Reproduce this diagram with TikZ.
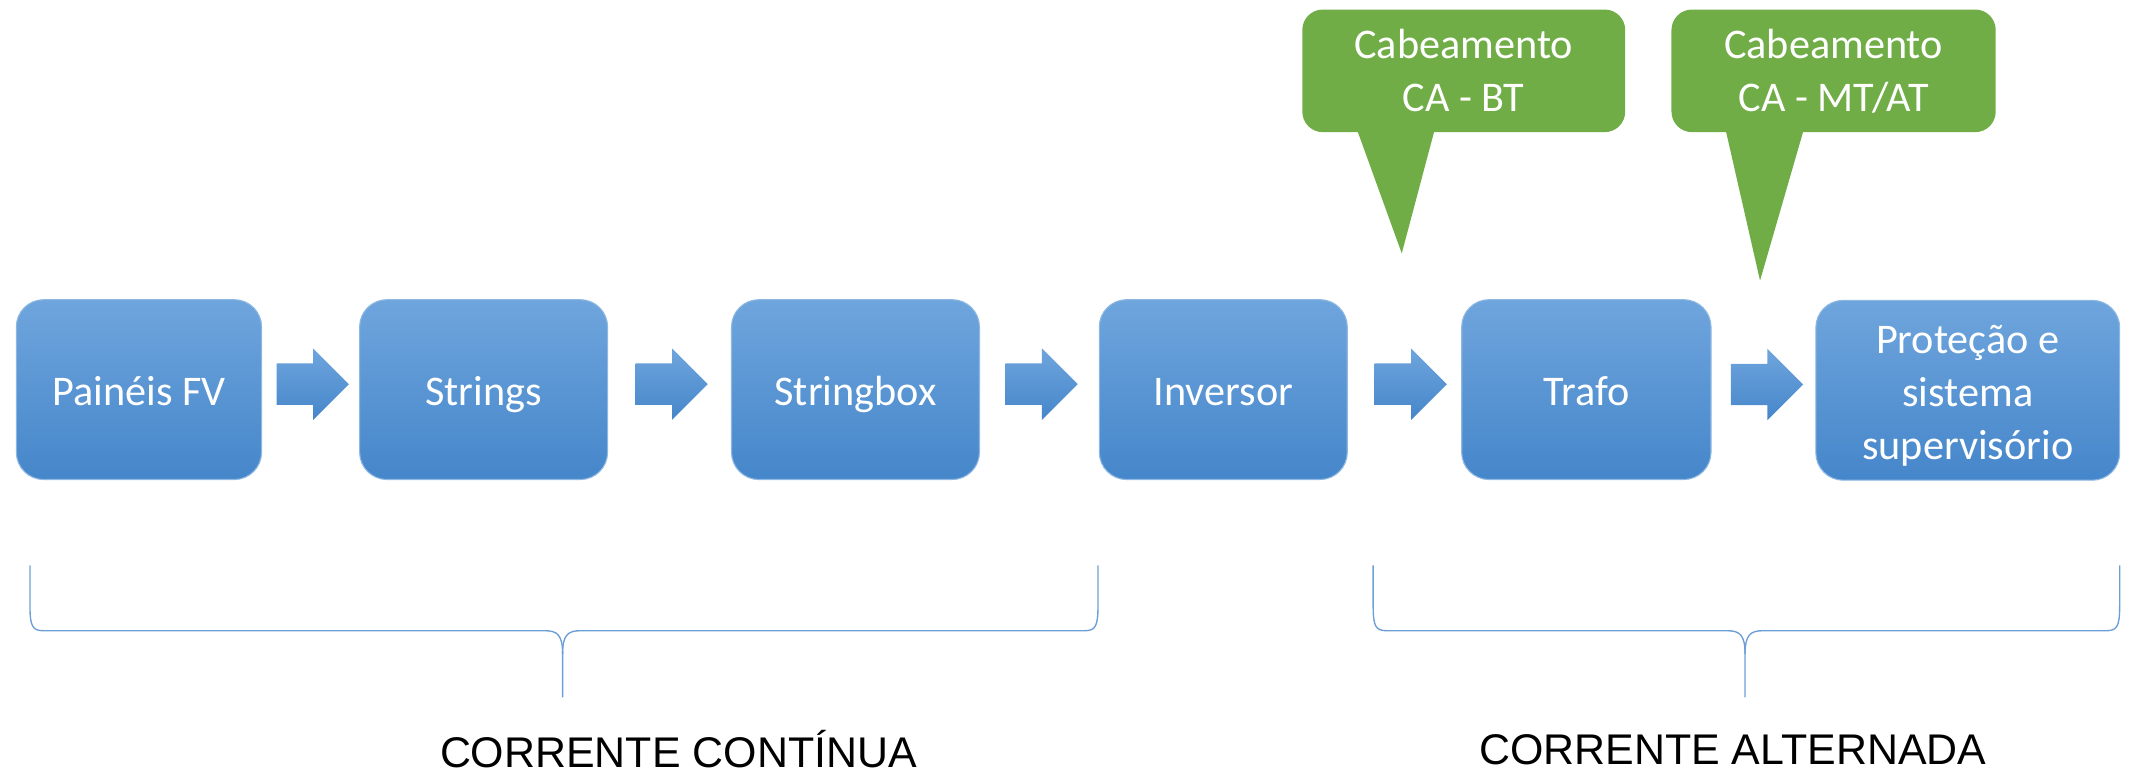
\documentclass[tikz,border=0pt]{standalone}
\usepackage{fontspec}
\setmainfont{Carlito}
\newfontfamily\labelfont{Liberation Sans}
\usetikzlibrary{shapes.arrows,calc}
\definecolor{boxtop}{HTML}{6FA5DD}
\definecolor{boxbot}{HTML}{4586CA}
\definecolor{boxedge}{HTML}{8DB8E3}
\definecolor{callgreen}{HTML}{70AD47}
\definecolor{bracecol}{HTML}{6C9FD6}

\begin{document}
\begin{tikzpicture}[x=1pt,y=-1pt,
  stage/.style={draw=boxedge, line width=0.8pt, rounded corners=20pt,
    top color=boxtop, bottom color=boxbot, text=white,
    font=\fontsize{31}{39}\selectfont, align=center, inner sep=0pt,
    minimum height=132pt, text height=30pt, text depth=6pt},
  stagetext/.style={text=white, font=\fontsize{31}{39}\selectfont,
    align=center, inner sep=0pt},
  flow/.style={single arrow, single arrow head extend=11pt,
    text height=15pt, text depth=15pt, text width=0pt,
    minimum height=53pt, inner sep=0pt,
    top color=boxtop, bottom color=boxbot, draw=none},
  callout/.style={fill=callgreen, rounded corners=15pt, text=white,
    font=\fontsize{31}{39}\selectfont, align=center, inner sep=0pt,
    minimum width=237pt, minimum height=90pt},
  brace/.style={draw=bracecol, line width=1pt},
  bandlabel/.style={font=\labelfont\fontsize{31.5}{36}\selectfont, text=black, inner sep=0pt}]

\useasboundingbox (0,0) rectangle (1568,567);

% process stages
\node[stage, minimum width=180pt] (pv)  at (102,286)    {Painéis FV};
\node[stage, minimum width=182pt] (str) at (355,286)    {Strings};
\node[stage, minimum width=182pt] (sb)  at (628,286)    {Stringbox};
\node[stage, minimum width=182pt] (inv) at (898,286)    {Inversor};
\node[stage, minimum width=183pt] (tr)  at (1164.5,286) {Trafo};
\node[stage, minimum width=223pt] (pr)  at (1444.5,286.5) {};
\node[stagetext] (prtext) at ([yshift=-4pt]pr.center) {Proteção e\\sistema\\supervisório};

% block arrows between stages
\node[flow] (a1) at ($(pv.east)!0.5!(str.west)+(-6,-4)$) {};
\node[flow] (a2) at ($(str.east)!0.5!(sb.west)+(-6,-4)$) {};
\node[flow] (a3) at ($(sb.east)!0.5!(inv.west)+(-6,-4)$) {};
\node[flow] (a4) at ($(inv.east)!0.5!(tr.west)+(-3,-4)$) {};
\node[flow] (a5) at ($(tr.east)!0.5!(pr.west)+(-5,-4)$) {};

% cabling callouts
\coordinate (tip1) at (1029,186);
\coordinate (tip2) at (1292,206);
\fill[callgreen] ([xshift=-79.5pt,yshift=5pt]1074.5,97) -- (tip1) -- ([xshift=-20.5pt,yshift=5pt]1074.5,97) -- cycle;
\fill[callgreen] ([xshift=-80pt,yshift=5pt]1346,97) -- (tip2) -- ([xshift=-21pt,yshift=5pt]1346,97) -- cycle;
\node[callout] (cab1) at (1074.5,52) {Cabeamento\\CA - BT};
\node[callout, minimum width=238pt] (cab2) at (1346,52) {Cabeamento\\CA - MT/AT};

% braces grouping DC and AC sections
\coordinate (dcl) at (22,415);
\coordinate (dcr) at (806,415);
\coordinate (dcm) at (413,512);
\draw[brace] (dcl) -- (22,445) .. controls (22,460) and (24,463) .. (32,463) -- (400,463)
  .. controls (409,463) and (413,466) .. (413,480) -- (dcm);
\draw[brace] (dcr) -- (806,445) .. controls (806,460) and (804,463) .. (796,463) -- (426,463)
  .. controls (417,463) and (413,466) .. (413,480);

\coordinate (acl) at (1008,415);
\coordinate (acr) at (1556,415);
\coordinate (acm) at (1281,512);
\draw[brace] (acl) -- (1008,445) .. controls (1008,460) and (1010,463) .. (1018,463) -- (1268,463)
  .. controls (1277,463) and (1281,466) .. (1281,480) -- (acm);
\draw[brace] (acr) -- (1556,445) .. controls (1556,460) and (1554,463) .. (1546,463) -- (1294,463)
  .. controls (1285,463) and (1281,466) .. (1281,480);

\node[bandlabel] (dc) at (498,550) {CORRENTE CONTÍNUA};
\node[bandlabel] (ac) at (1272,550) {CORRENTE ALTERNADA};

\end{tikzpicture}
\end{document}
